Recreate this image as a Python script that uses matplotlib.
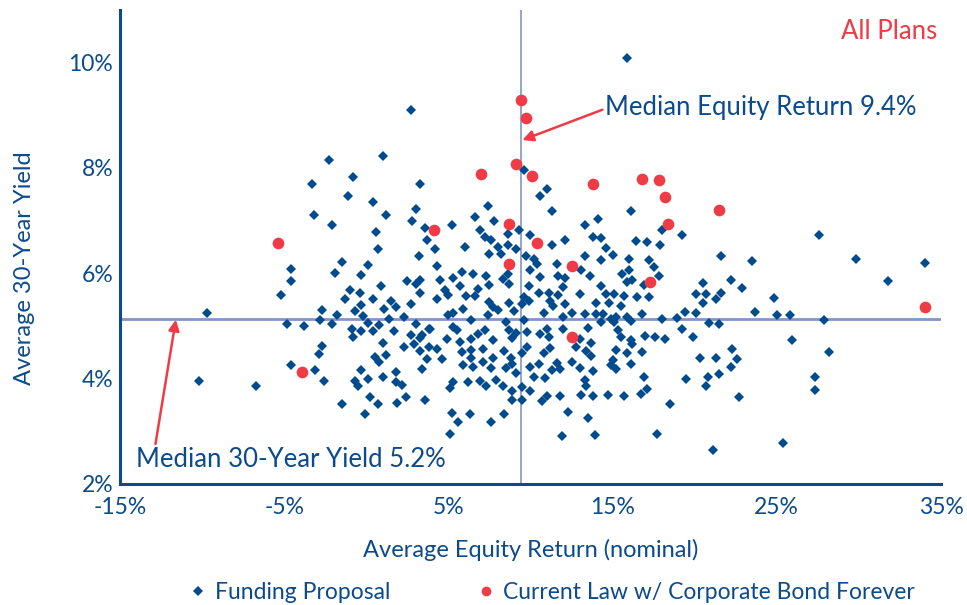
import matplotlib
matplotlib.use("Agg")
import matplotlib.pyplot as plt
from matplotlib.lines import Line2D

plt.rcParams['font.family'] = ['Lato', 'DejaVu Sans']

# Funding Proposal (equity return %, 30-year yield %)
fund_x = [15.9, 2.7,
          -2.3, 1.0, -0.8, -3.3, 3.3, -1.1, 0.4, 3.0, -3.2, 1.2, -2.1, 2.8, 3.6, 0.6, 3.7, 0.7, 3.2, -1.5,
          0.1, -4.6, -1.9, -0.3, -4.6, 2.5, 3.3, 3.0, 0.9, -1.0, -0.4, 3.3, -5.2, -1.3, 0.4, 1.5, 1.8, 1.1,
          -0.3, 2.7, -2.7, -0.7, -0.2, -1.8, 2.3, 1.4, -9.7,
          9.6, 11.0, 10.6, 7.4, 11.3, 16.1, 6.6, 7.8, 14.1, 5.2, 13.3, 6.9, 9.3, 18.0, 8.6, 7.2, 10.0, 13.8,
          14.3, 12.1, 16.4, 17.1, 7.6, 8.0, 8.6, 6.0, 11.3, 17.9, 4.2, 9.1, 14.6, 9.7, 7.5, 8.2, 13.3, 15.0,
          10.2, 16.0, 14.3, 17.2, 10.4, 11.6, 4.3, 17.5, 10.0, 5.8, 6.5, 13.1, 16.0, 7.3, 8.3, 8.6, 10.6,
          11.7, 12.1, 13.6, 15.6, 17.8, 5.3, 4.5, 15.9, 16.2, 8.7, 5.7, 7.5, 9.9, 12.0, 14.3, 16.9, 6.8, 4.8,
          11.1, 14.6, 15.1, 5.0, 6.1, 6.6, 9.6, 10.5, 11.7, 13.0, 15.7, 16.5, 17.2, 4.3, 9.9, 11.2, 7.5, 9.5,
          7.7, 8.7, 12.1, 14.0, 14.8, 15.5, 5.9, 8.0, 9.0, 11.4, 5.3, 5.0, 7.4, 10.8, 13.3, 14.0, 14.4, 16.8,
          15.2, 15.9, 18.0, 6.4, 9.6, 12.0, 12.5,
          19.2, 27.6, 21.6, 23.5, 29.8, 34.0, 31.8, 20.5, 22.2, 22.9, 20.1, 20.7, 21.6, 21.3, 20.5, 24.8,
          19.4, 18.9, 20.1, 23.7, 25.0, 25.8, 27.9,
          -10.2, -6.7, -4.8, -3.8, -2.8, -2.1, -2.7, -2.9, -4.6, -3.1, -2.6, -0.9, -0.8, -0.3, 0.1, 0.4, 0.8,
          1.7, 3.0, 2.7, 3.3, 3.8, 1.0, 2.3, 2.9, 3.3, 3.8, 0.5, 1.2, 0.8, 3.7, 3.4, -0.3, 1.8, 0.1, 1.0,
          -0.7, -0.5, 1.8, 2.2, 0.2, 2.4, 3.6, -1.5, 0.7, 1.9, -0.1,
          8.5, 14.9, 3.9, 5.3, 5.5, 7.2, 8.7, 9.8, 11.0, 10.6, 12.0, 13.5, 14.3, 15.1, 15.3, 16.1, 17.0, 17.6,
          18.2, 3.4, 4.9, 6.4, 6.8, 7.7, 8.9, 9.1, 11.1, 13.0, 15.5, 16.1, 4.3, 5.7, 5.8, 6.4, 7.1, 8.4, 9.8,
          11.2, 12.8, 13.7, 13.4, 15.2, 15.9, 16.8, 16.2, 4.6, 6.4, 7.7, 8.8, 9.5, 10.8, 11.6, 12.5, 13.7,
          15.0, 5.9, 6.5, 7.1, 7.6, 8.5, 8.9, 9.1, 10.0, 10.5, 11.3, 11.8, 13.0, 13.8, 14.9, 15.2, 16.1, 10.2,
          10.9, 5.3, 6.2, 6.9, 7.9, 13.3, 16.9, 5.1, 7.3, 8.3, 9.5, 13.4, 8.9, 10.0, 11.0, 11.8, 13.1, 13.8,
          14.7, 15.7, 16.7, 17.1, 8.9, 9.5, 10.7, 18.5, 5.2, 6.3, 8.4, 12.3, 13.5, 5.6, 7.6, 5.1, 11.9, 13.9,
          17.7,
          20.9, 21.5, 19.2, 19.9, 25.9, 28.2, 22.3, 20.3, 21.3, 22.6, 22.2, 19.5, 20.8, 21.5, 20.7, 27.3,
          27.3, 22.7, 25.4, 21.1]
fund_y = [10.08, 9.11,
          8.16, 8.22, 7.83, 7.70, 7.69, 7.46, 7.35, 7.23, 7.10, 7.10, 6.92, 6.99, 6.87, 6.78, 6.64, 6.46,
          6.32, 6.21, 6.16, 6.08, 6.01, 5.96, 5.86, 5.86, 5.87, 5.79, 5.75, 5.68, 5.63, 5.63, 5.58, 5.52,
          5.52, 5.47, 5.36, 5.33, 5.40, 5.41, 5.30, 5.28, 5.19, 5.20, 5.17, 5.13, 5.25,
          7.97, 7.61, 7.47, 7.27, 7.19, 7.18, 7.07, 6.99, 7.04, 6.91, 6.91, 6.83, 6.83, 6.82, 6.75, 6.69,
          6.72, 6.69, 6.68, 6.63, 6.61, 6.59, 6.63, 6.50, 6.53, 6.50, 6.54, 6.54, 6.46, 6.47, 6.49, 6.33,
          6.36, 6.36, 6.32, 6.34, 6.28, 6.27, 6.26, 6.26, 6.17, 6.18, 6.13, 6.12, 6.06, 6.02, 5.99, 6.06,
          6.06, 5.95, 5.89, 5.99, 5.93, 5.94, 5.92, 5.94, 5.98, 5.95, 5.92, 5.87, 5.84, 5.87, 5.79, 5.75,
          5.78, 5.75, 5.74, 5.75, 5.77, 5.71, 5.68, 5.63, 5.60, 5.60, 5.58, 5.56, 5.57, 5.55, 5.62, 5.58,
          5.60, 5.56, 5.55, 5.55, 5.52, 5.47, 5.47, 5.46, 5.41, 5.37, 5.44, 5.41, 5.43, 5.43, 5.38, 5.32,
          5.30, 5.29, 5.38, 5.25, 5.20, 5.20, 5.25, 5.22, 5.22, 5.22, 5.22, 5.17, 5.17, 5.14, 5.12, 5.12,
          5.17, 5.25,
          6.73, 6.73, 6.32, 6.24, 6.28, 6.20, 5.86, 5.82, 5.88, 5.73, 5.60, 5.60, 5.62, 5.52, 5.43, 5.54,
          5.27, 5.16, 5.25, 5.27, 5.20, 5.20, 5.11,
          3.96, 3.86, 5.03, 5.00, 5.11, 5.03, 4.62, 4.46, 4.26, 4.16, 3.95, 4.95, 4.79, 4.90, 5.05, 4.90,
          5.01, 4.90, 5.03, 4.82, 4.77, 4.94, 4.67, 4.60, 4.65, 4.52, 4.60, 4.41, 4.45, 4.32, 4.38, 4.19,
          4.16, 4.13, 4.00, 4.03, 3.95, 3.86, 3.94, 3.88, 3.65, 3.65, 3.59, 3.51, 3.51, 3.53, 3.32,
          5.07, 5.14, 4.94, 4.98, 4.92, 4.92, 4.92, 4.88, 4.94, 4.84, 4.95, 4.96, 5.08, 5.08, 4.92, 5.09,
          4.81, 4.79, 4.76, 4.82, 4.76, 4.76, 4.84, 4.73, 4.77, 4.86, 4.79, 4.76, 4.79, 4.73, 4.57, 4.69,
          4.51, 4.54, 4.57, 4.52, 4.60, 4.58, 4.60, 4.67, 4.52, 4.54, 4.48, 4.51, 4.65, 4.37, 4.39, 4.39,
          4.39, 4.49, 4.48, 4.29, 4.32, 4.43, 4.35, 4.26, 4.22, 4.32, 4.21, 4.20, 4.27, 4.10, 4.22, 4.27,
          4.16, 4.19, 4.20, 4.14, 4.26, 4.19, 4.27, 4.03, 4.02, 3.94, 3.93, 3.96, 3.97, 3.97, 4.03, 3.83,
          3.86, 3.86, 3.84, 3.86, 3.76, 3.76, 3.67, 3.67, 3.69, 3.67, 3.69, 3.67, 3.71, 3.80, 3.59, 3.59,
          3.57, 3.51, 3.35, 3.33, 3.33, 3.36, 3.25, 3.18, 3.18, 2.95, 2.91, 2.93, 2.95,
          5.05, 5.03, 4.95, 4.79, 4.73, 4.50, 4.56, 4.40, 4.39, 4.37, 4.22, 4.00, 4.03, 4.08, 3.86, 4.03,
          3.78, 3.65, 2.78, 2.64]

# Current Law w/ Corporate Bond Forever
law_x = [-5.4, -3.9, 4.1, 7.0, 8.7, 8.7, 9.1, 9.4, 9.7, 10.1, 10.4, 12.5, 12.5, 13.8, 16.8, 17.8,
         18.2, 18.4, 17.3, 21.5, 34.0]
law_y = [6.57, 4.13, 6.82, 7.88, 6.93, 6.18, 8.07, 9.30, 8.94, 7.85, 6.57, 6.13, 4.79, 7.69, 7.80, 7.78,
         7.44, 6.93, 5.84, 7.21, 5.37]

median_return = 9.4
median_yield = 5.13

x_ticks = [-15, -5, 5, 15, 25, 35]
y_ticks = [2, 4, 6, 8, 10]

navy = '#0b4a8c'
red = '#ee3b45'
guide = '#8295c6'

fig = plt.figure(figsize=(9.67, 6.05), dpi=100)
ax = fig.add_axes([0.1241, 0.2, 0.849, 0.7835])

ax.axvline(median_return, color=guide, lw=1.2, zorder=1)
ax.axhline(median_yield, color=guide, lw=2, zorder=1)

ax.plot(fund_x, fund_y, 'D', color='#004a8e', ms=5.6, mew=0, ls='none', zorder=3)
ax.plot(law_x, law_y, 'o', color=red, ms=8.4, mew=0, ls='none', zorder=4)

ax.set_xlim(-15, 35)
ax.set_ylim(2, 11.0)
ax.set_xticks(x_ticks)
ax.set_xticklabels([f'{t}%' for t in x_ticks])
ax.set_yticks(y_ticks)
ax.set_yticklabels([f'{t}%' for t in y_ticks])
ax.tick_params(length=0, labelsize=16.5, colors=navy, pad=9)
ax.tick_params(axis='y', pad=5)

for side in ['top', 'right']:
    ax.spines[side].set_visible(False)
for side in ['left', 'bottom']:
    ax.spines[side].set_color(navy)
    ax.spines[side].set_linewidth(2.2)

ax.set_xlabel('Average Equity Return (nominal)', fontsize=17, color=navy)
ax.set_ylabel('Average 30-Year Yield', fontsize=17, color=navy)
ax.xaxis.set_label_coords(0.5, -0.115)
ax.yaxis.set_label_coords(-0.104, 0.456)

ax.text(34.8, 10.59, 'All Plans', color=red, fontsize=18.5, ha='right', va='center')

ax.annotate('Median Equity Return 9.4%', xy=(9.5, 8.53), xytext=(14.55, 9.15),
            fontsize=18.5, color=navy, va='center', ha='left',
            arrowprops=dict(arrowstyle='-|>', color=red, lw=1.8, mutation_scale=16,
                            shrinkA=0, shrinkB=0, relpos=(0, 0.45)))
ax.annotate('Median 30-Year Yield 5.2%', xy=(-11.6, 5.12), xytext=(-14.0, 2.47),
            fontsize=18.5, color=navy, va='center', ha='left',
            arrowprops=dict(arrowstyle='-|>', color=red, lw=1.8, mutation_scale=16,
                            shrinkA=0, shrinkB=0, relpos=(0.06, 1.0)))

handles = [Line2D([], [], marker='D', color='#004a8e', ls='none', ms=5, mew=0),
           Line2D([], [], marker='o', color=red, ls='none', ms=7, mew=0)]
fig.legend(handles, ['Funding Proposal', 'Current Law w/ Corporate Bond Forever'],
           loc='center', bbox_to_anchor=(0.572, 0.02), ncol=2, frameon=False,
           fontsize=16.5, labelcolor=navy, handletextpad=0.44, columnspacing=3.85,
           handlelength=0.6)

fig.savefig('out.png', dpi=100)
